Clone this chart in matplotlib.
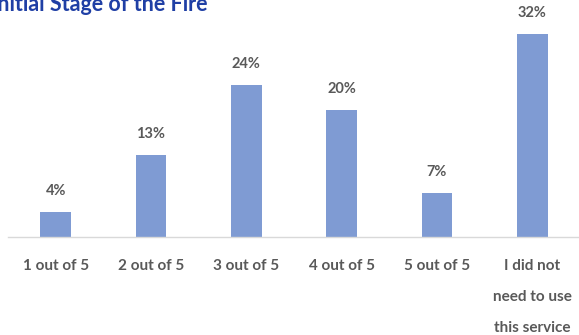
import matplotlib.pyplot as plt

categories = ["1 out of 5", "2 out of 5", "3 out of 5", "4 out of 5", "5 out of 5",
              "I did not\nneed to use\nthis service"]
values = [4, 13, 24, 20, 7, 32]

plt.rcParams['font.family'] = ['Lato', 'DejaVu Sans']

fig = plt.figure(figsize=(5.79, 3.35), dpi=100)
ax = fig.add_axes([8 / 579, 1 - 237 / 335, 572 / 579, 237 / 335])

x = range(len(values))
bars = ax.bar(x, values, width=0.32, color='#7f9bd3', zorder=2)
for b, v in zip(bars, values):
    ax.annotate(f"{v}%", (b.get_x() + b.get_width() / 2, v),
                xytext=(0, 14), textcoords='offset pixels',
                ha='center', va='bottom', fontsize=10.5, fontweight='bold', color='#595959')

ax.set_xlim(-0.5, 5.5)
ax.set_ylim(0, 237 / 6.34)
ax.set_xticks(list(x))
ax.set_xticklabels(categories, fontsize=11, fontweight='bold', color='#595959',
                   linespacing=2.55, va='top')
ax.tick_params(axis='x', length=0, pad=16)
ax.set_yticks([])
for s in ['top', 'left', 'right']:
    ax.spines[s].set_visible(False)
ax.spines['bottom'].set_color('#d9d9d9')
ax.spines['bottom'].set_linewidth(1.0)

fig.text(-0.016, 1 - 11 / 335, "Initial Stage of the Fire", fontsize=15.5,
         fontweight='bold', color='#1f3fa5', ha='left', va='baseline')

fig.savefig('out.png', dpi=100)
